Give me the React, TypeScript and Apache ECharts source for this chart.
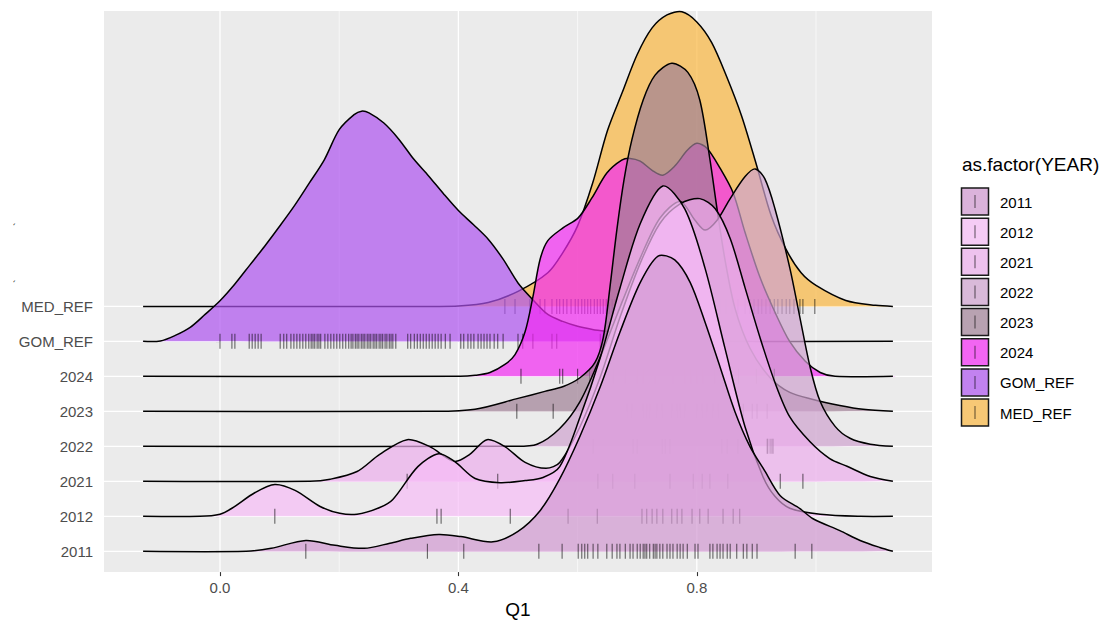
import React, { useEffect, useRef } from "react";
import * as echarts from "echarts";

// ---------- categories ----------
const groups = ["2011", "2012", "2021", "2022", "2023", "2024", "GOM_REF", "MED_REF"];
const fills = [
  "rgba(210,152,210,0.7)",
  "rgba(246,188,246,0.7)",
  "rgba(236,174,236,0.7)",
  "rgba(206,162,206,0.7)",
  "rgba(160,128,150,0.7)",
  "rgba(242,42,242,0.7)",
  "rgba(174,82,239,0.7)",
  "rgba(249,182,64,0.7)",
];

// ---------- ridgeline densities: [Q1, height in row units] ----------
const dens2011 = [[-0.129,0],[0.044,0],[0.086,0.085],[0.144,0.31],[0.193,0.17],[0.242,0.085],[0.285,0.23],[0.320,0.37],[0.367,0.48],[0.404,0.42],[0.458,0.27],[0.500,0.57],[0.537,1.16],[0.570,2.07],[0.604,3.29],[0.638,4.70],[0.671,6.26],[0.705,7.68],[0.735,8.44],[0.763,8.33],[0.789,7.68],[0.814,6.54],[0.839,5.27],[0.864,3.99],[0.889,3.00],[0.914,2.30],[0.940,1.59],[0.973,1.22],[0.995,0.93],[1.040,0.59],[1.074,0.31],[1.107,0.11],[1.129,0]];
const dens2012 = [[-0.129,0],[-0.034,0],[0.0,0.06],[0.020,0.23],[0.059,0.68],[0.092,0.91],[0.126,0.74],[0.168,0.28],[0.201,0.085],[0.230,0.06],[0.268,0.25],[0.290,0.48],[0.332,1.42],[0.367,1.79],[0.394,1.56],[0.428,1.08],[0.470,0.96],[0.512,1.02],[0.542,1.11],[0.570,1.42],[0.604,2.83],[0.638,4.53],[0.671,6.52],[0.705,8.36],[0.743,9.44],[0.780,8.78],[0.814,7.08],[0.847,4.82],[0.881,2.55],[0.911,1.13],[0.931,0.57],[0.956,0.23],[1.007,0.06],[1.074,0],[1.129,0]];
const dens2021 = [[-0.129,0],[0.151,0],[0.185,0.06],[0.230,0.28],[0.268,0.77],[0.314,1.19],[0.352,0.99],[0.393,0.57],[0.419,0.77],[0.448,1.19],[0.478,0.99],[0.512,0.54],[0.547,0.37],[0.570,0.54],[0.604,1.56],[0.638,2.98],[0.671,4.68],[0.705,6.23],[0.738,7.37],[0.772,7.93],[0.805,8.08],[0.831,7.79],[0.856,6.94],[0.881,5.53],[0.906,4.11],[0.931,2.83],[0.956,1.84],[0.990,1.13],[1.023,0.65],[1.052,0.43],[1.091,0.14],[1.129,0]];
const dens2022 = [[-0.129,0],[0.493,0],[0.532,0.06],[0.570,0.51],[0.604,1.28],[0.638,2.55],[0.671,3.97],[0.705,5.38],[0.738,6.52],[0.772,7.00],[0.797,6.46],[0.814,6.18],[0.834,6.46],[0.856,7.08],[0.881,7.71],[0.898,7.93],[0.914,7.65],[0.931,6.80],[0.956,5.10],[0.973,3.68],[0.990,2.27],[1.007,1.28],[1.032,0.57],[1.057,0.23],[1.091,0.06],[1.129,0]];
const dens2023 = [[-0.129,0],[0.362,0],[0.428,0.06],[0.500,0.37],[0.545,0.57],[0.576,0.71],[0.604,0.96],[0.629,1.39],[0.643,2.10],[0.654,3.51],[0.666,5.21],[0.678,6.63],[0.691,7.76],[0.710,8.90],[0.730,9.61],[0.758,9.95],[0.785,9.69],[0.805,8.90],[0.822,7.20],[0.834,5.78],[0.847,4.36],[0.864,2.95],[0.889,1.81],[0.923,0.96],[0.956,0.54],[0.995,0.34],[1.040,0.17],[1.079,0.06],[1.129,0]];
const dens2024 = [[-0.129,0],[0.403,0],[0.428,0.03],[0.453,0.11],[0.478,0.34],[0.495,0.62],[0.512,1.28],[0.525,2.27],[0.537,3.34],[0.550,3.88],[0.576,4.25],[0.601,4.53],[0.624,5.10],[0.649,5.81],[0.674,6.18],[0.688,6.23],[0.705,6.15],[0.725,5.89],[0.743,5.75],[0.763,6.01],[0.784,6.46],[0.800,6.66],[0.817,6.52],[0.839,5.95],[0.861,5.24],[0.881,4.11],[0.906,2.83],[0.931,1.84],[0.956,0.99],[0.982,0.43],[1.007,0.11],[1.032,0],[1.129,0]];
const densGOM = [[-0.129,0],[-0.10,0.01],[-0.075,0.17],[-0.05,0.40],[-0.025,0.77],[0,1.16],[0.025,1.64],[0.05,2.18],[0.075,2.72],[0.10,3.29],[0.125,3.88],[0.15,4.53],[0.175,5.19],[0.20,6.05],[0.225,6.48],[0.2375,6.58],[0.25,6.53],[0.275,6.24],[0.30,5.78],[0.325,5.21],[0.35,4.73],[0.375,4.22],[0.40,3.74],[0.425,3.34],[0.45,2.92],[0.475,2.35],[0.50,1.67],[0.525,1.19],[0.55,0.77],[0.575,0.57],[0.60,0.43],[0.625,0.34],[0.65,0.28],[0.675,0.23],[0.70,0.17],[0.75,0.07],[0.80,0.01],[0.85,0],[1.129,0]];
const densMED = [[-0.129,0],[0.35,0],[0.40,0.01],[0.45,0.11],[0.50,0.43],[0.55,0.96],[0.575,1.53],[0.60,2.30],[0.625,3.51],[0.65,5.02],[0.675,6.12],[0.70,7.20],[0.725,7.96],[0.75,8.33],[0.775,8.42],[0.80,8.13],[0.825,7.54],[0.85,6.57],[0.875,5.45],[0.90,4.05],[0.925,2.58],[0.95,1.62],[0.975,0.96],[1.00,0.60],[1.05,0.17],[1.10,0.03],[1.129,0]];

// ---------- observed Q1 values (rug marks) ----------
const rug2011 = [0.144,0.348,0.409,0.535,0.574,0.601,0.607,0.612,0.617,0.626,0.634,0.649,0.658,0.666,0.671,0.680,0.688,0.693,0.700,0.705,0.710,0.713,0.716,0.721,0.727,0.730,0.733,0.738,0.743,0.750,0.755,0.760,0.767,0.772,0.777,0.784,0.797,0.802,0.822,0.827,0.834,0.839,0.844,0.851,0.856,0.867,0.878,0.884,0.893,0.901,0.965,0.993];
const rug2012 = [0.092,0.364,0.371,0.487,0.584,0.633,0.708,0.716,0.725,0.733,0.743,0.758,0.767,0.775,0.792,0.805,0.819,0.844,0.861,0.872];
const rug2021 = [0.314,0.466,0.634,0.659,0.696,0.755,0.794,0.809,0.822,0.852,0.940,0.978];
const rug2022 = [0.626,0.693,0.700,0.742,0.747,0.755,0.842,0.851,0.869,0.918,0.919,0.923,0.926,0.928];
const rug2023 = [0.498,0.559,0.683,0.691,0.710,0.716,0.721,0.733,0.742,0.758,0.767,0.772,0.780,0.800,0.809,0.817,0.827,0.836,0.861,0.878,0.893,0.901,0.918];
const rug2024 = [0.505,0.570,0.575,0.600,0.620,0.640,0.660,0.680,0.700,0.710,0.730,0.760,0.780,0.790,0.800,0.810,0.830,0.850,0.870,0.900,0.930];
const rugGOM = [0.000,0.020,0.025,0.049,0.054,0.059,0.064,0.069,0.101,0.107,0.112,0.119,0.124,0.129,0.134,0.139,0.144,0.149,0.153,0.156,0.159,0.163,0.166,0.169,0.176,0.181,0.186,0.191,0.196,0.201,0.206,0.211,0.216,0.220,0.223,0.227,0.230,0.233,0.237,0.240,0.243,0.247,0.250,0.253,0.257,0.260,0.263,0.267,0.270,0.273,0.277,0.280,0.284,0.287,0.290,0.295,0.315,0.320,0.326,0.331,0.336,0.341,0.346,0.351,0.356,0.361,0.366,0.371,0.378,0.386,0.404,0.409,0.416,0.421,0.426,0.433,0.438,0.443,0.448,0.453,0.460,0.466,0.475,0.500,0.508,0.525,0.557,0.565,0.638];
const rugMED = [0.478,0.495,0.520,0.537,0.545,0.557,0.565,0.570,0.576,0.582,0.589,0.596,0.601,0.607,0.612,0.617,0.622,0.628,0.633,0.638,0.643,0.648,0.653,0.658,0.663,0.668,0.673,0.680,0.686,0.693,0.700,0.706,0.713,0.721,0.730,0.738,0.745,0.752,0.758,0.765,0.772,0.779,0.785,0.792,0.799,0.805,0.814,0.822,0.831,0.839,0.849,0.859,0.869,0.881,0.889,0.896,0.903,0.909,0.916,0.923,0.930,0.936,0.943,0.950,0.956,0.963,0.973,0.978,0.998];

const densities = [dens2011, dens2012, dens2021, dens2022, dens2023, dens2024, densGOM, densMED];
const rugs = [rug2011, rug2012, rug2021, rug2022, rug2023, rug2024, rugGOM, rugMED];

// ---------- axes ----------
const xTicks = [0, 0.4, 0.8];
const xMinor = [0.2, 0.6, 1.0];
const rows = [1, 2, 3, 4, 5, 6, 7, 8];
const X_MIN = -0.1946, X_MAX = 1.1946;
const Y_MIN = 0.405, Y_MAX = 16.443;

const FONT = "'Liberation Sans', Arial, sans-serif";
const SMOOTH = 0.3;
const RUG = "rgba(0,0,0,0.58)";

export default function App() {
  const ref = useRef<HTMLDivElement>(null);
  useEffect(() => {
    const chart = echarts.init(ref.current!, null, { renderer: "svg" });

    const gridSeries = {
      type: "custom",
      z: 1,
      silent: true,
      data: [[0, 1]],
      renderItem: (_p: any, api: any) => {
        const children: any[] = [];
        xTicks.forEach((v) => {
          const a = api.coord([v, Y_MIN]);
          const b = api.coord([v, Y_MAX]);
          children.push({ type: "line", shape: { x1: a[0], y1: a[1], x2: b[0], y2: b[1] }, style: { stroke: "#fff", lineWidth: 1.3 } });
        });
        xMinor.forEach((v) => {
          const a = api.coord([v, Y_MIN]);
          const b = api.coord([v, Y_MAX]);
          children.push({ type: "line", shape: { x1: a[0], y1: a[1], x2: b[0], y2: b[1] }, style: { stroke: "#fff", lineWidth: 0.6 } });
        });
        rows.forEach((r) => {
          const a = api.coord([X_MIN, r]);
          const b = api.coord([X_MAX, r]);
          children.push({ type: "line", shape: { x1: a[0], y1: a[1], x2: b[0], y2: b[1] }, style: { stroke: "#fff", lineWidth: 1.3 } });
        });
        return { type: "group", children };
      },
    };

    const ridgeSeries = [7, 6, 5, 4, 3, 2, 1, 0].map((gi, order) => {
      const row = gi + 1;
      const dens = densities[gi];
      const rug = rugs[gi];
      return {
        type: "custom",
        name: groups[gi],
        z: 2 + order,
        silent: true,
        data: [[dens[0][0], row]],
        renderItem: (_p: any, api: any) => {
          const pts = dens.map((d) => api.coord([d[0], row + d[1]]));
          const children: any[] = [
            { type: "polygon", shape: { points: pts, smooth: SMOOTH }, style: { fill: fills[gi], stroke: null } },
            { type: "polyline", shape: { points: pts, smooth: SMOOTH }, style: { fill: null, stroke: "#000", lineWidth: 1.5 } },
          ];
          rug.forEach((q) => {
            const c = api.coord([q, row]);
            children.push({ type: "line", shape: { x1: c[0], y1: c[1] - 7.5, x2: c[0], y2: c[1] + 7.5 }, style: { stroke: RUG, lineWidth: 1.1 } });
          });
          return { type: "group", children };
        },
      };
    });

    const legendEls: any[] = [
      { type: "text", left: 962, top: 155, style: { text: "as.factor(YEAR)", font: `19px ${FONT}`, fill: "#000" } },
    ];
    groups.forEach((g, i) => {
      const y = 188 + 30.15 * i;
      legendEls.push({ type: "rect", shape: { x: 961.5, y, width: 27, height: 27 }, style: { fill: "#F2F2F2", stroke: null } });
      legendEls.push({ type: "rect", shape: { x: 961.5, y, width: 27, height: 27 }, style: { fill: fills[i], stroke: "#1a1a1a", lineWidth: 1.5 } });
      legendEls.push({ type: "line", shape: { x1: 975, y1: y + 7, x2: 975, y2: y + 20 }, style: { stroke: RUG, lineWidth: 1.1 } });
      legendEls.push({ type: "text", x: 1000, y: y + 14, style: { text: g, font: `15px ${FONT}`, fill: "#000", verticalAlign: "middle", align: "left" } });
    });
    legendEls.push({ type: "text", x: 12, y: 226, rotation: Math.PI / 2, style: { text: "`", font: `11px ${FONT}`, fill: "#333" } });
    legendEls.push({ type: "text", x: 12, y: 283, rotation: Math.PI / 2, style: { text: "`", font: `11px ${FONT}`, fill: "#333" } });

    chart.setOption({
      animation: false,
      backgroundColor: "#fff",
      textStyle: { fontFamily: FONT },
      grid: { left: 104, top: 11, width: 828, height: 566, show: true, backgroundColor: "#EBEBEB", borderWidth: 0 },
      xAxis: {
        type: "value",
        min: X_MIN,
        max: X_MAX,
        splitLine: { show: false },
        axisLine: { show: false },
        axisTick: { show: true, customValues: xTicks, length: 4, lineStyle: { color: "#333", width: 1.1 } },
        axisLabel: { customValues: xTicks, formatter: (v: number) => v.toFixed(1), color: "#4D4D4D", fontSize: 15, margin: 8, fontFamily: FONT },
        name: "Q1",
        nameLocation: "middle",
        nameGap: 27,
        nameTextStyle: { color: "#000", fontSize: 19, fontFamily: FONT },
      },
      yAxis: {
        type: "value",
        min: Y_MIN,
        max: Y_MAX,
        splitLine: { show: false },
        axisLine: { show: false },
        axisTick: { show: true, customValues: rows, length: 4, lineStyle: { color: "#333", width: 1.1 } },
        axisLabel: { customValues: rows, formatter: (v: number) => groups[Math.round(v) - 1] ?? "", color: "#4D4D4D", fontSize: 15, margin: 11, fontFamily: FONT },
      },
      graphic: legendEls,
      series: [gridSeries, ...ridgeSeries],
    });
    return () => chart.dispose();
  }, []);
  return <div ref={ref} style={{ position: "fixed", left: 0, top: 0, width: 1104, height: 624, background: "#fff" }} />;
}
